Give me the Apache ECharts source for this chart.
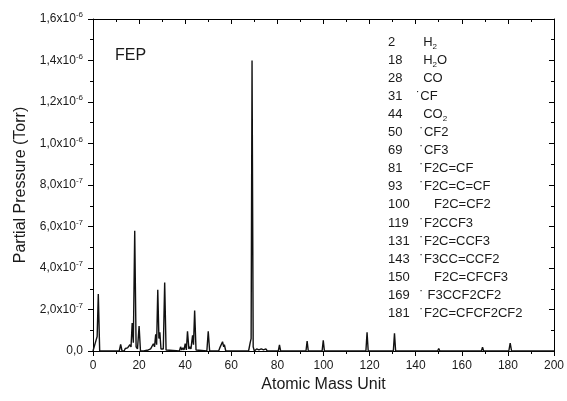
<!DOCTYPE html>
<html><head><meta charset="utf-8">
<script src="https://cdn.jsdelivr.net/npm/echarts@6/dist/echarts.min.js"></script>
<style>html,body{margin:0;padding:0;background:#fff}#c{width:567px;height:401px}</style>
</head><body><div id="c"></div>
<script>
// Spectrum profile: mass (amu) and partial pressure (Torr)
const amu = [
  0, 0.8, 1.4, 1.8, 2.3, 2.9,
  11.4, 12, 12.6, 13.5, 14, 14.5, 15, 15.5, 16, 16.5, 17, 17.5, 18.1, 18.7, 19.3, 20, 20.6,
  22, 24, 25, 25.5, 26.2, 26.7, 27.2, 27.6, 28.1, 28.6, 29, 29.5, 30, 30.5, 31.1, 31.7, 32.5,
  37.5, 38, 38.5, 39, 39.5, 40, 40.5, 41, 41.6, 42, 42.5, 43.2, 43.6, 44.1, 44.7, 45.5,
  49.4, 50, 50.6, 54.5, 55, 55.5, 56.2, 56.7, 57, 57.6,
  67.5, 68.2, 68.6, 69, 69.5, 70, 71, 72, 73, 74, 75, 75.6,
  80.4, 80.9, 81.4, 85.5, 86, 86.5, 92.4, 92.9, 93.4, 99.4, 99.9, 100.4, 111.5, 112, 112.5,
  118.4, 118.9, 119.4, 130.3, 130.8, 131.3, 142.5, 143, 143.5, 149.5, 150, 150.5,
  168.5, 169, 169.5, 180.4, 181, 181.6, 200
];
const pressure = [
  0, 0, 0.55e-7, 0.7e-7, 2.75e-7, 0,
  0, 0.32e-7, 0, 0, 0.12e-7, 0.05e-7, 0.15e-7, 0.1e-7, 0.3e-7, 0.2e-7, 1.35e-7, 0.4e-7, 5.8e-7, 0.2e-7, 0.1e-7, 1.2e-7, 0,
  0, 0.05e-7, 0.1e-7, 0.05e-7, 0.35e-7, 0.2e-7, 0.8e-7, 0.3e-7, 2.95e-7, 0.6e-7, 0.9e-7, 0.1e-7, 0.05e-7, 0.1e-7, 3.3e-7, 0.05e-7, 0,
  0, 0.2e-7, 0.05e-7, 0.15e-7, 0.05e-7, 0.35e-7, 0.05e-7, 0.95e-7, 0.1e-7, 0.2e-7, 0.1e-7, 0.75e-7, 0.3e-7, 1.95e-7, 0.05e-7, 0,
  0, 0.95e-7, 0, 0, 0.15e-7, 0.1e-7, 0.45e-7, 0.2e-7, 0.3e-7, 0,
  0, 0.4e-7, 0.6e-7, 14.0e-7, 0.2e-7, 0, 0.1e-7, 0.05e-7, 0.1e-7, 0.05e-7, 0.1e-7, 0,
  0, 0.3e-7, 0, 0, 0.05e-7, 0, 0, 0.48e-7, 0, 0, 0.52e-7, 0, 0, 0.05e-7, 0,
  0, 0.9e-7, 0, 0, 0.85e-7, 0, 0, 0.08e-7, 0, 0, 0.12e-7, 0,
  0, 0.18e-7, 0, 0, 0.38e-7, 0, 0
];
const xTickLabels = ['0','20','40','60','80','100','120','140','160','180','200'];
const yTickLabels = ['0,0','2,0x10-7','4,0x10-7','6,0x10-7','8,0x10-7','1,0x10-6','1,2x10-6','1,4x10-6','1,6x10-6'];
const sampleName = 'FEP';
const legendMass = ['2','18','28','31','44','50','69','81','93','100','119','131','143','150','169','181'];
const legendSpecies = ['  H₂','  H₂O','  CO','˙CF','  CO₂',' ˙CF2',' ˙CF3',' ˙F2C=CF',' ˙F2C=C=CF','     F2C=CF2',' ˙F2CCF3',' ˙F2C=CCF3',' ˙F3CC=CCF2','     F2C=CFCF3',' ˙ F3CCF2CF2',' ˙F2C=CFCF2CF2'];

const FONT = '"Liberation Sans", Arial, sans-serif';
const TXT = '#1a1a1a';

function speciesRich(s){
  return s.replace(/₂/g, '{s|2}');
}
function yLabel(v){
  const lab = yTickLabels[Math.round(v / 2e-7)];
  if (lab === undefined) return '';
  const k = lab.indexOf('x10');
  if (k < 0) return '{m|' + lab + '}';
  return '{m|' + lab.slice(0, k + 3) + '}{e|' + lab.slice(k + 3) + '}';
}

const legendEls = [];
legendMass.forEach((m, i) => {
  const y = 42 + i * 18.1;
  legendEls.push({type:'text', x:388, y:y, silent:true,
    style:{text:m, fontSize:13, fontFamily:FONT, fill:TXT, verticalAlign:'middle', align:'left'}});
  legendEls.push({type:'text', x:416, y:y, silent:true,
    style:{text:speciesRich(legendSpecies[i]), fontSize:13, fontFamily:FONT, fill:TXT, verticalAlign:'middle', align:'left',
      rich:{s:{fontSize:8, fontFamily:FONT, fill:TXT, padding:[9,0,0,0]}}}});
});

const axisLineStyle = {color:'#000', width:1};
const chart = echarts.init(document.getElementById('c'), null, {renderer:'canvas'});
chart.setOption({
  animation:false,
  backgroundColor:'#fff',
  textStyle:{fontFamily:FONT},
  grid:{left:93, right:10, top:19, bottom:50},
  title:{text:sampleName, left:110, top:43, textStyle:{fontSize:16, fontWeight:'normal', color:TXT, fontFamily:FONT}},
  xAxis:[{
    type:'value', min:0, max:200, interval:20, position:'bottom',
    name:'Atomic Mass Unit', nameLocation:'middle', nameGap:24,
    nameTextStyle:{fontSize:16, color:TXT, fontFamily:FONT},
    axisLine:{show:true, onZero:false, lineStyle:axisLineStyle},
    axisTick:{show:true, inside:false, length:5, lineStyle:axisLineStyle},
    minorTick:{show:true, splitNumber:2, length:3, lineStyle:axisLineStyle},
    axisLabel:{fontSize:12, color:TXT, margin:9, fontFamily:FONT, formatter:v => xTickLabels[Math.round(v/20)]},
    splitLine:{show:false}, minorSplitLine:{show:false}
  },{
    type:'value', min:0, max:200, interval:20, position:'top',
    axisLine:{show:true, onZero:false, lineStyle:axisLineStyle},
    axisTick:{show:true, inside:true, length:5, lineStyle:axisLineStyle},
    minorTick:{show:true, splitNumber:2, length:3, lineStyle:axisLineStyle},
    axisLabel:{show:false}, splitLine:{show:false}
  }],
  yAxis:[{
    type:'value', min:0, max:1.6e-6, interval:2e-7, position:'left',
    name:'Partial Pressure (Torr)', nameLocation:'middle', nameGap:57,
    nameTextStyle:{fontSize:16, color:TXT, fontFamily:FONT},
    axisLine:{show:true, onZero:false, lineStyle:axisLineStyle},
    axisTick:{show:true, inside:false, length:5, lineStyle:axisLineStyle},
    minorTick:{show:true, splitNumber:2, length:3, lineStyle:axisLineStyle},
    axisLabel:{margin:10, formatter:yLabel,
      rich:{m:{fontSize:12, color:TXT, fontFamily:FONT}, e:{fontSize:8, color:TXT, fontFamily:FONT, padding:[0,0,8,0]}}},
    splitLine:{show:false}
  },{
    type:'value', min:0, max:1.6e-6, interval:2e-7, position:'right',
    axisLine:{show:true, onZero:false, lineStyle:axisLineStyle},
    axisTick:{show:true, inside:true, length:5, lineStyle:axisLineStyle},
    minorTick:{show:true, splitNumber:2, length:3, lineStyle:axisLineStyle},
    axisLabel:{show:false}, splitLine:{show:false}
  }],
  series:[{
    type:'line', xAxisIndex:0, yAxisIndex:0,
    data: amu.map((m, i) => [m, pressure[i]]),
    symbol:'none', showSymbol:false,
    lineStyle:{color:'#111', width:1.4}
  }],
  graphic: legendEls
});
</script></body></html>
